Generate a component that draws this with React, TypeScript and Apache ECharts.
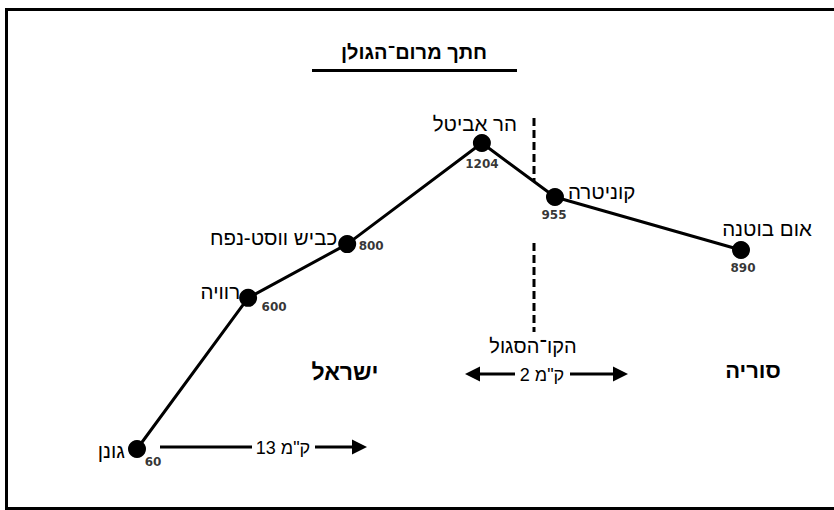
import React, { useEffect, useRef } from "react";
import * as echarts from "echarts";

// Points along the Golan Heights profile (west → east)
const placeNames = ["גונן", "רוויה", "כביש ווסט-נפח", "הר אביטל", "קוניטרה", "אום בוטנה"];
// elevation written next to each point (metres)
const elevations = [60, 600, 800, 1204, 955, 890];
// schematic horizontal position of each point as drawn (0 = Gonen, 100 = Um Butna)
const drawnDistance = [0, 18.4, 34.8, 57.1, 69.2, 100];
// schematic height of each point as drawn on the profile
const drawnHeight = [60, 625, 826, 1204, 1002, 804];

const titleText = "חתך מרום־הגולן";
const purpleLineText = "הקו־הסגול";
const israelText = "ישראל";
const syriaText = "סוריה";
const dist13Text = 'ק"מ 13';
const dist2Text = 'ק"מ 2';

// label placements (style only)
const nameLabelStyle = [
  { align: "right", offset: [-12, 1] },
  { align: "right", offset: [-8, -6] },
  { align: "right", offset: [-10, -7] },
  { align: "center", offset: [-7, -20] },
  { align: "left", offset: [13, -6] },
  { align: "center", offset: [26, -21] },
];
const elevLabelOffset = [
  [16, 13],
  [26, 9],
  [24, 2],
  [0, 21],
  [-1, 18],
  [2, 18],
];

const HEB = "'Liberation Sans', 'DejaVu Sans', sans-serif";
const NUM = "'DejaVu Sans', sans-serif";

function arrowHead(tipX: number, y: number, dir: 1 | -1) {
  const len = 15;
  const half = 7.5;
  return {
    type: "polygon",
    shape: {
      points: [
        [tipX, y],
        [tipX - dir * len, y - half],
        [tipX - dir * len, y + half],
      ],
    },
    style: { fill: "#000" },
  };
}

function hline(x1: number, x2: number, y: number) {
  return {
    type: "line",
    shape: { x1, y1: y, x2, y2: y },
    style: { stroke: "#000", lineWidth: 3 },
  };
}

function label(text: string, x: number, y: number, font: string) {
  return {
    type: "text",
    x,
    y,
    style: {
      text,
      fill: "#000",
      font,
      textAlign: "center",
      textVerticalAlign: "middle",
    },
  };
}

export default function App() {
  const ref = useRef<HTMLDivElement>(null);

  useEffect(() => {
    if (!ref.current) return;
    const chart = echarts.init(ref.current, undefined, { renderer: "svg" });

    const lineData = drawnDistance.map((x, i) => ({
      value: [x, drawnHeight[i]],
      name: placeNames[i],
      label: {
        show: true,
        position: "inside",
        align: nameLabelStyle[i].align,
        verticalAlign: "middle",
        offset: nameLabelStyle[i].offset,
        formatter: placeNames[i],
      },
    }));

    const elevData = drawnDistance.map((x, i) => ({
      value: [x, drawnHeight[i]],
      label: {
        show: true,
        position: "inside",
        align: "center",
        verticalAlign: "middle",
        offset: elevLabelOffset[i],
        formatter: String(elevations[i]),
      },
    }));

    const option: any = {
      animation: false,
      backgroundColor: "#fff",
      grid: { left: 137, right: 93, top: 143, bottom: 61 },
      xAxis: { type: "value", min: 0, max: 100, show: false },
      yAxis: { type: "value", min: 60, max: 1204, show: false },
      series: [
        {
          type: "line",
          data: lineData,
          symbol: "circle",
          symbolSize: 18,
          showAllSymbol: true,
          itemStyle: { color: "#000" },
          lineStyle: { color: "#000", width: 3 },
          label: {
            color: "#000",
            fontFamily: HEB,
            fontSize: 20.5,
          },
          z: 3,
        },
        {
          type: "scatter",
          data: elevData,
          symbolSize: 0,
          itemStyle: { color: "transparent" },
          label: {
            color: "#000",
            fontFamily: NUM,
            fontSize: 12,
            fontWeight: "bold",
          },
          z: 4,
        },
      ],
      graphic: [
        {
          type: "rect",
          shape: { x: 6.5, y: 9.5, width: 900, height: 499 },
          style: { fill: "none", stroke: "#000", lineWidth: 3 },
          z: 0,
        },
        label(titleText, 414, 52, `bold 20px ${HEB}`),
        {
          type: "line",
          shape: { x1: 312, y1: 70.5, x2: 517, y2: 70.5 },
          style: { stroke: "#000", lineWidth: 3 },
        },
        {
          type: "line",
          shape: { x1: 534, y1: 118, x2: 534, y2: 182 },
          style: { stroke: "#000", lineWidth: 3, lineDash: [8, 4] },
        },
        {
          type: "line",
          shape: { x1: 534, y1: 243, x2: 534, y2: 332 },
          style: { stroke: "#000", lineWidth: 3, lineDash: [8, 4] },
        },
        label(purpleLineText, 533, 346, `20px ${HEB}`),
        label(israelText, 345, 372, `bold 23px ${HEB}`),
        label(syriaText, 753, 370, `bold 22px ${HEB}`),
        // 2 km arrow
        hline(476, 515, 374),
        hline(570, 616, 374),
        arrowHead(465, 374, -1),
        arrowHead(628, 374, 1),
        label(dist2Text, 542, 375, `18px ${HEB}`),
        // 13 km arrow
        hline(160, 252, 447),
        hline(315, 356, 447),
        arrowHead(367, 447, 1),
        label(dist13Text, 283, 448, `18px ${HEB}`),
      ],
    };

    chart.setOption(option);
    return () => chart.dispose();
  }, []);

  return (
    <div
      ref={ref}
      style={{ position: "fixed", left: 0, top: 0, width: 834, height: 510, background: "#fff" }}
    />
  );
}
